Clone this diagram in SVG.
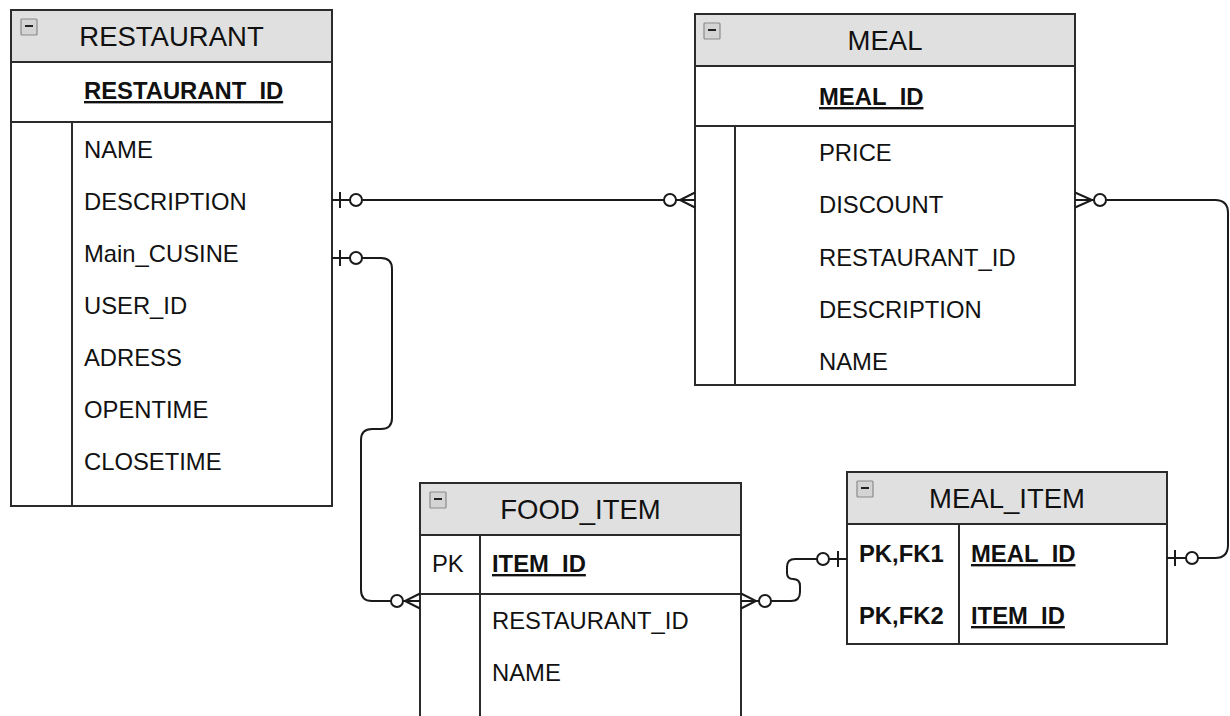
<svg xmlns="http://www.w3.org/2000/svg" width="1230" height="716" viewBox="0 0 1230 716">
  <style>
    .box { fill: #ffffff; stroke: #2b2b2b; stroke-width: 2; }
    .head { fill: #e0e0e0; stroke: #2b2b2b; stroke-width: 2; }
    .sep { stroke: #2b2b2b; stroke-width: 2; fill: none; }
    .title { font-family: "Liberation Sans", Arial, sans-serif; font-size: 27.5px; fill: #111; text-anchor: middle; }
    .field { font-family: "Liberation Sans", Arial, sans-serif; font-size: 23.8px; fill: #111; }
    .key { font-weight: bold; }
    .ul { text-decoration: underline; }
    .icon { fill: #d4d4d4; stroke: #8a8a8a; stroke-width: 1.2; }
    .dash { stroke: #222; stroke-width: 2; }
    .wire { fill: none; stroke: #1a1a1a; stroke-width: 2; }
    .ring { fill: #ffffff; stroke: #1a1a1a; stroke-width: 2; }
  </style>
  <defs>
    <!-- collapse toggle shown in every table header -->
    <g id="toggle">
      <rect class="icon" x="0" y="0" width="16" height="16" rx="1"/>
      <line class="dash" x1="4" y1="7" x2="12" y2="7"/>
    </g>
  </defs>

  <!-- RESTAURANT -->
  <g id="restaurant">
    <rect class="box" x="11" y="10" width="321" height="496"/>
    <rect class="head" x="11" y="10" width="321" height="52"/>
    <use href="#toggle" x="21" y="19"/>
    <text class="title" x="171.5" y="46">RESTAURANT</text>
    <line class="sep" x1="11" y1="122" x2="332" y2="122"/>
    <line class="sep" x1="72" y1="122" x2="72" y2="506"/>
    <text class="field key ul" x="84" y="99">RESTAURANT_ID</text>
    <text class="field" x="84" y="158">NAME</text>
    <text class="field" x="84" y="210">DESCRIPTION</text>
    <text class="field" x="84" y="262">Main_CUSINE</text>
    <text class="field" x="84" y="314">USER_ID</text>
    <text class="field" x="84" y="366">ADRESS</text>
    <text class="field" x="84" y="418">OPENTIME</text>
    <text class="field" x="84" y="470">CLOSETIME</text>
  </g>

  <!-- MEAL -->
  <g id="meal">
    <rect class="box" x="695" y="14" width="380" height="371"/>
    <rect class="head" x="695" y="14" width="380" height="52"/>
    <use href="#toggle" x="704" y="23"/>
    <text class="title" x="885" y="50">MEAL</text>
    <line class="sep" x1="695" y1="126" x2="1075" y2="126"/>
    <line class="sep" x1="735" y1="126" x2="735" y2="385"/>
    <text class="field key ul" x="819" y="105">MEAL_ID</text>
    <text class="field" x="819" y="161">PRICE</text>
    <text class="field" x="819" y="213">DISCOUNT</text>
    <text class="field" x="819" y="266">RESTAURANT_ID</text>
    <text class="field" x="819" y="318">DESCRIPTION</text>
    <text class="field" x="819" y="370">NAME</text>
  </g>

  <!-- FOOD_ITEM (continues below the visible area) -->
  <g id="food_item">
    <rect class="box" x="420" y="483" width="321" height="260"/>
    <rect class="head" x="420" y="483" width="321" height="52"/>
    <use href="#toggle" x="430" y="492"/>
    <text class="title" x="580.5" y="519">FOOD_ITEM</text>
    <line class="sep" x1="420" y1="594" x2="741" y2="594"/>
    <line class="sep" x1="480" y1="535" x2="480" y2="743"/>
    <text class="field" x="432" y="572">PK</text>
    <text class="field key ul" x="492" y="572">ITEM_ID</text>
    <text class="field" x="492" y="629">RESTAURANT_ID</text>
    <text class="field" x="492" y="681">NAME</text>
  </g>

  <!-- MEAL_ITEM -->
  <g id="meal_item">
    <rect class="box" x="847" y="472" width="320" height="172"/>
    <rect class="head" x="847" y="472" width="320" height="52"/>
    <use href="#toggle" x="857" y="481"/>
    <text class="title" x="1007" y="508">MEAL_ITEM</text>
    <line class="sep" x1="959" y1="524" x2="959" y2="644"/>
    <text class="field key" x="859" y="562">PK,FK1</text>
    <text class="field key ul" x="971" y="562">MEAL_ID</text>
    <text class="field key" x="859" y="624">PK,FK2</text>
    <text class="field key ul" x="971" y="624">ITEM_ID</text>
  </g>

  <!-- relationships -->
  <g id="connectors">
    <!-- RESTAURANT (zero or one) to MEAL (zero or many) -->
    <g id="rel-restaurant-meal">
      <path class="wire" d="M332,200 H350 M362,200 H664 M676,200 H695"/>
      <line class="wire" x1="340" y1="192" x2="340" y2="208"/>
      <circle class="ring" cx="356" cy="200" r="6"/>
      <circle class="ring" cx="670" cy="200" r="6"/>
      <path class="wire" d="M695,192.5 L680,200 L695,207.5"/>
    </g>

    <!-- RESTAURANT (zero or one) to FOOD_ITEM (zero or many) -->
    <g id="rel-restaurant-food">
      <path class="wire" d="M332,258 H350"/>
      <line class="wire" x1="340" y1="250" x2="340" y2="266"/>
      <circle class="ring" cx="356" cy="258" r="6"/>
      <path class="wire" d="M362,258 H381 Q392,258 392,269 V418 Q392,429 381,429 H372 Q361,429 361,440 V590 Q361,601 372,601 H391"/>
      <circle class="ring" cx="397" cy="601" r="6"/>
      <path class="wire" d="M403,601 H420 M420,593.5 L405,601 L420,608.5"/>
    </g>

    <!-- FOOD_ITEM (zero or many) to MEAL_ITEM (zero or one) -->
    <g id="rel-food-mealitem">
      <path class="wire" d="M741,601 H759 M741,593.5 L756,601 L741,608.5"/>
      <circle class="ring" cx="765" cy="601" r="6"/>
      <path class="wire" d="M771,601 H791 Q800,601 800,592 V586 Q800,579 793,579 Q787,579 787,573 V567 Q787,559 795,559 H817"/>
      <circle class="ring" cx="823" cy="559" r="6"/>
      <path class="wire" d="M829,559 H847"/>
      <line class="wire" x1="838" y1="551" x2="838" y2="567"/>
    </g>

    <!-- MEAL (zero or many) to MEAL_ITEM (zero or one) -->
    <g id="rel-meal-mealitem">
      <path class="wire" d="M1075,200 H1094 M1075,192.5 L1092,200 L1075,207.5"/>
      <circle class="ring" cx="1100" cy="200" r="6"/>
      <path class="wire" d="M1106,200 H1215 Q1228,200 1228,213 V545 Q1228,558 1215,558 H1198"/>
      <circle class="ring" cx="1192" cy="558" r="6"/>
      <path class="wire" d="M1186,558 H1167"/>
      <line class="wire" x1="1175" y1="550" x2="1175" y2="566"/>
    </g>
  </g>
</svg>
